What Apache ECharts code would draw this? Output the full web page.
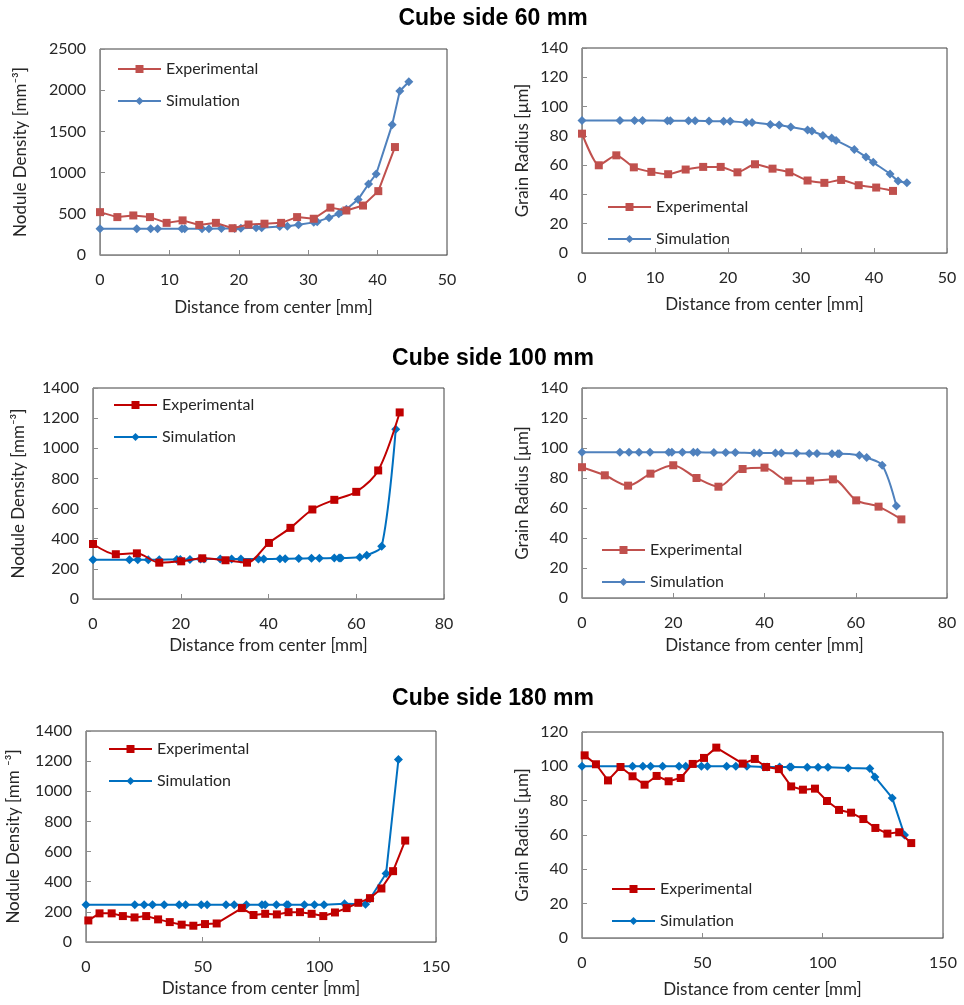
<!DOCTYPE html>
<html><head><meta charset="utf-8">
<script src="https://cdn.jsdelivr.net/npm/echarts@6/dist/echarts.min.js"></script>
<style>html,body{margin:0;padding:0;background:#fff}#c{width:964px;height:1005px}</style>
</head><body><div id="c"></div><script>
// ---- Data (x = distance from center [mm], y = value) ----
const titles = ['Cube side 60 mm', 'Cube side 100 mm', 'Cube side 180 mm'];
const seriesNames = ['Experimental', 'Simulation'];
const xAxisName = 'Distance from center [mm]';
const densityName = 'Nodule Density [mm\u207B\u00B3]';
const densityName180 = 'Nodule Density [mm \u207B\u00B3]';
const radiusName = 'Grain Radius [\u00B5m]';

// Cube 60 mm
const exp60Density = [[0,520],[2.5,460],[4.8,480],[7.2,460],[9.6,390],[11.9,420],[14.3,365],[16.7,390],[19.1,325],[21.4,370],[23.7,380],[26.1,390],[28.4,460],[30.8,440],[33.2,575],[35.5,540],[37.9,600],[40.1,775],[42.5,1310]];
const sim60Density = [[0,320],[5.3,320],[7.3,320],[8.3,320],[11.8,320],[12.2,320],[14.7,320],[15.7,320],[17.5,322],[19.4,322],[20.3,325],[22.5,330],[23.3,332],[25.9,345],[27.0,348],[28.6,368],[30.8,396],[31.3,405],[33.0,453],[34.4,500],[34.8,525],[35.5,555],[37.2,675],[38.7,862],[39.8,983],[42.1,1582],[43.2,1990],[44.5,2103]];
const exp60Radius = [[0,81.5],[2.3,59.9],[4.7,66.7],[7.1,58.5],[9.5,55.4],[11.8,53.8],[14.2,57.0],[16.6,58.8],[19.0,58.8],[21.3,55.1],[23.7,60.6],[26.1,57.6],[28.4,55.1],[30.9,49.5],[33.2,47.9],[35.5,49.9],[37.9,46.3],[40.3,44.7],[42.6,42.4]];
const sim60Radius = [[0,90.5],[5.2,90.5],[7.2,90.5],[8.3,90.5],[11.7,90.4],[12.1,90.4],[14.6,90.3],[15.5,90.3],[17.4,90.1],[19.4,89.9],[20.3,89.9],[22.5,89.2],[23.3,89.2],[25.8,87.8],[27.0,87.4],[28.6,86.0],[30.9,84.0],[31.5,83.3],[33.0,80.3],[34.2,78.5],[34.8,76.9],[37.3,70.6],[38.9,65.6],[39.9,61.9],[42.2,54.0],[43.3,49.2],[44.5,47.9]];

// Cube 100 mm
const exp100Density = [[0,365],[5.2,297],[10.0,303],[15.1,241],[20.1,250],[24.9,270],[30.2,257],[35.1,241],[40.1,372],[45.0,472],[50.0,594],[55.0,658],[60.0,711],[65.0,853],[69.9,1238]];
const sim100Density = [[0,261],[8.3,261],[10.2,261],[12.6,261],[15.1,261],[19.1,262],[19.9,262],[22.1,262],[24.5,265],[25.3,265],[29.0,265],[31.6,265],[33.7,265],[37.7,265],[38.9,265],[42.6,267],[43.8,267],[46.9,268],[49.8,270],[51.6,270],[55.0,272],[56.1,272],[56.5,272],[60.8,277],[62.4,290],[65.8,350],[69.0,1127]];
const exp100Radius = [[0,87.2],[5.0,81.8],[10.1,74.9],[15.0,82.9],[20.0,88.5],[25.1,80.0],[29.9,74.2],[35.2,86.0],[40.0,86.9],[45.2,78.2],[50.0,78.2],[55.0,79.1],[60.1,65.1],[65.0,60.9],[70.0,52.4]];
const sim100Radius = [[0,97.2],[8.3,97.2],[10.3,97.2],[12.5,97.2],[14.9,97.2],[19.0,97.2],[19.7,97.2],[22.0,97.2],[24.4,97.1],[25.3,97.1],[28.9,97.0],[31.5,97.0],[33.6,97.0],[37.7,96.7],[38.9,96.7],[42.4,96.6],[43.7,96.6],[47.0,96.5],[49.8,96.3],[51.5,96.3],[54.8,96.1],[56.1,96.1],[56.4,96.1],[60.8,95.2],[62.4,93.6],[65.8,88.5],[68.9,61.3]];

// Cube 180 mm
const exp180Density = [[1,143],[5.8,190],[11.0,190],[15.8,172],[20.8,163],[25.8,172],[30.9,150],[35.9,132],[41.0,115],[46.0,108],[51.0,119],[56.0,123],[66.8,225],[71.8,179],[76.8,187],[81.8,183],[86.8,198],[91.7,198],[96.7,187],[101.7,172],[106.7,196],[111.7,225],[116.7,260],[121.7,291],[126.6,355],[131.6,470],[136.8,673]];
const sim180Density = [[0,247],[20.9,247],[24.9,247],[28.5,247],[33.5,247],[39.9,247],[42.7,247],[49.4,247],[51.9,247],[60.0,247],[63.5,247],[68.7,247],[75.4,247],[76.8,247],[81.6,247],[86.0,247],[86.6,247],[93.6,247],[97.9,247],[102.0,247],[110.8,254],[119.8,251],[121.7,287],[128.6,454],[133.9,1211]];
const exp180Radius = [[1.1,106.4],[5.8,101.2],[10.8,91.8],[16.0,99.6],[21.0,94.2],[26.0,89.3],[31.0,94.4],[36.0,91.3],[41.0,93.2],[46.0,101.4],[50.7,104.9],[55.8,110.9],[66.8,101.6],[71.8,104.3],[76.5,99.6],[81.8,98.4],[86.9,88.3],[91.8,86.4],[96.8,87.0],[101.8,79.8],[106.8,74.6],[111.8,73.0],[116.9,69.3],[121.9,64.1],[126.9,60.8],[131.8,61.6],[136.8,55.3]];
const sim180Radius = [[0,100],[21.0,100],[25.3,100],[28.5,100],[33.5,100],[40.3,100],[43.1,100],[49.6,100],[52.1,100],[60.1,100],[63.9,100],[68.5,100],[75.6,99.6],[76.9,99.6],[82.1,99.6],[86.3,99.6],[86.9,99.6],[93.6,99.4],[98.1,99.4],[102.2,99.4],[110.6,99.0],[119.6,98.8],[121.7,93.8],[128.9,81.6],[134.0,60.0]];

// ---- Layout / styling ----
const RED1 = '#C0504D', BLUE1 = '#4F81BD';
const RED2 = '#C00000', BLUE2 = '#0070C0';
const FONT = 'Lato';
const TXT = '#262626';

const panels = [
  {grid:{left:100,top:49,width:347,height:206}, x:[0,50,10], y:[0,2500,500], yName:densityName, exp:exp60Density, sim:sim60Density, c:[RED1,BLUE1], leg:{left:117,top:61}, yGap:71, xGap:44, smooth:0},
  {grid:{left:582,top:48,width:365,height:205}, x:[0,50,10], y:[0,140,20], yName:radiusName, exp:exp60Radius, sim:sim60Radius, c:[RED1,BLUE1], leg:{left:607,top:199}, yGap:51, xGap:43, smooth:0.2},
  {grid:{left:93,top:388,width:351,height:211}, x:[0,80,20], y:[0,1400,200], yName:densityName, exp:exp100Density, sim:sim100Density, c:[RED2,BLUE2], leg:{left:113,top:397}, yGap:66, xGap:38, smooth:0.3},
  {grid:{left:582,top:388,width:365,height:210}, x:[0,80,20], y:[0,140,20], yName:radiusName, exp:exp100Radius, sim:sim100Radius, c:[RED1,BLUE1], leg:{left:601,top:542}, yGap:51, xGap:39, smooth:0.3},
  {grid:{left:86,top:731,width:350,height:211}, x:[0,150,50], y:[0,1400,200], yName:densityName180, exp:exp180Density, sim:sim180Density, c:[RED2,BLUE2], leg:{left:108,top:741}, yGap:64, xGap:38, smooth:0},
  {grid:{left:582,top:732,width:361,height:206}, x:[0,150,50], y:[0,120,20], yName:radiusName, exp:exp180Radius, sim:sim180Radius, c:[RED2,BLUE2], leg:{left:611,top:881}, yGap:51, xGap:43, smooth:0}
];

const plain = v => String(v);
const grid=[], xAxis=[], yAxis=[], series=[], legend=[];
panels.forEach((p,i)=>{
  grid.push(Object.assign({show:true, borderColor:'#404040', borderWidth:1, backgroundColor:'transparent'}, p.grid));
  xAxis.push({type:'value', gridIndex:i, min:p.x[0], max:p.x[1], interval:p.x[2],
    name:xAxisName, nameLocation:'middle', nameGap:p.xGap,
    nameTextStyle:{fontFamily:FONT, fontSize:17, color:TXT},
    axisLine:{show:true, lineStyle:{color:'#8c8c8c', width:1}},
    axisTick:{show:true, inside:true, length:5, lineStyle:{color:'#8c8c8c'}},
    axisLabel:{fontFamily:FONT, fontSize:16, color:TXT, margin:17, formatter:plain},
    splitLine:{show:false}});
  yAxis.push({type:'value', gridIndex:i, min:p.y[0], max:p.y[1], interval:p.y[2],
    name:p.yName, nameLocation:'middle', nameGap:p.yGap,
    nameTextStyle:{fontFamily:FONT, fontSize:17, color:TXT},
    axisLine:{show:true, lineStyle:{color:'#8c8c8c', width:1}},
    axisTick:{show:true, inside:true, length:5, lineStyle:{color:'#8c8c8c'}},
    axisLabel:{fontFamily:FONT, fontSize:16, color:TXT, margin:14, formatter:plain},
    splitLine:{show:false}});
  series.push({name:seriesNames[0], type:'line', xAxisIndex:i, yAxisIndex:i, data:p.exp,
    symbol:'rect', symbolSize:8, smooth:p.smooth, color:p.c[0],
    lineStyle:{width:2, color:p.c[0]}, itemStyle:{color:p.c[0]}, z:3});
  series.push({name:seriesNames[1], type:'line', xAxisIndex:i, yAxisIndex:i, data:p.sim,
    symbol:'diamond', symbolSize:9, smooth:p.smooth, color:p.c[1],
    lineStyle:{width:2, color:p.c[1]}, itemStyle:{color:p.c[1]}, z:2});
  legend.push({left:p.leg.left, top:p.leg.top, orient:'vertical', itemGap:16, padding:0,
    itemWidth:43, itemHeight:10, selectedMode:false,
    textStyle:{fontFamily:FONT, fontSize:16, color:TXT},
    data:[
      {name:seriesNames[0], itemStyle:{color:p.c[0]}, lineStyle:{color:p.c[0], width:2}},
      {name:seriesNames[1], itemStyle:{color:p.c[1]}, lineStyle:{color:p.c[1], width:2}}
    ]});
});

const titleTops = [7, 347, 687];
const title = titles.map((t,i)=>({text:t, left:493, top:titleTops[i], textAlign:'center', padding:0,
  textStyle:{fontFamily:'Liberation Sans', fontWeight:'bold', fontSize:23, color:'#000'}}));

const chart = echarts.init(document.getElementById('c'), null, {renderer:'canvas'});
chart.setOption({animation:false, backgroundColor:'#fff', title, grid, xAxis, yAxis, series, legend});
</script></body></html>
